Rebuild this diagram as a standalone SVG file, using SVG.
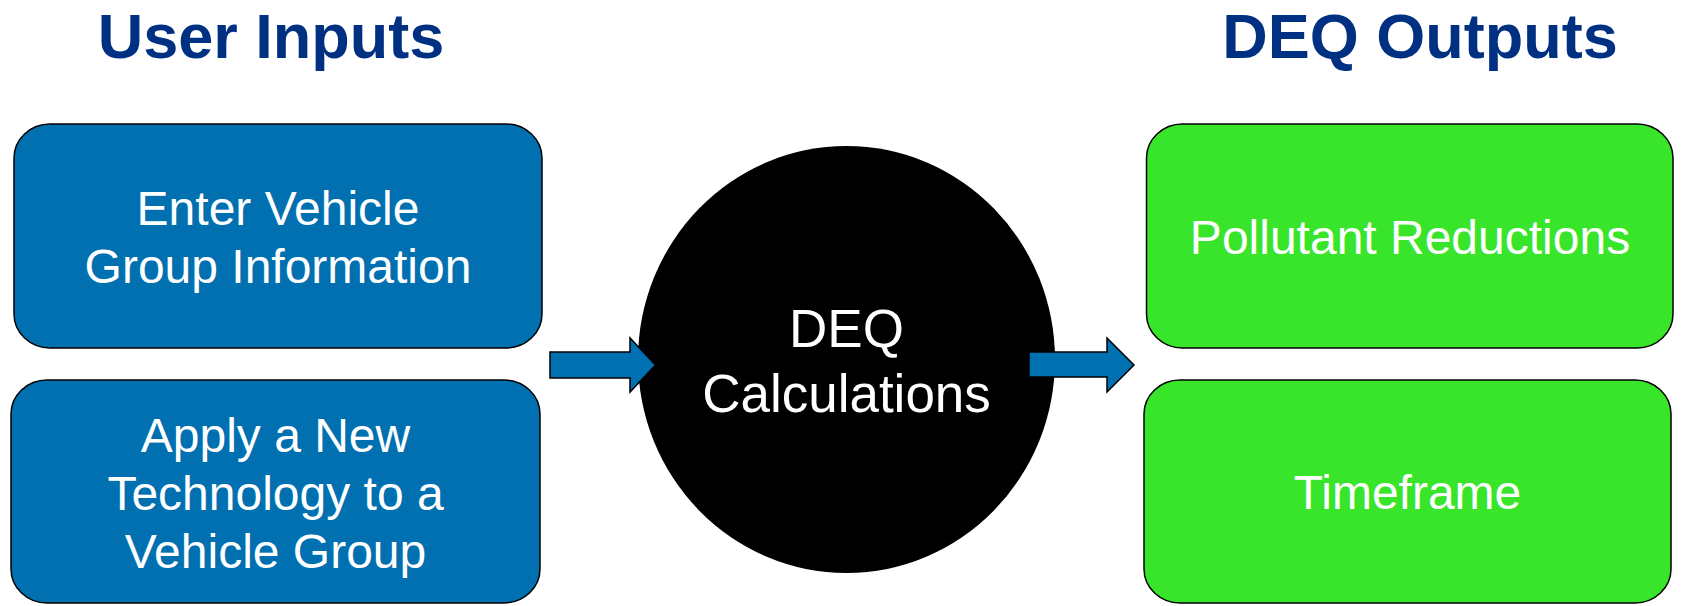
<svg xmlns="http://www.w3.org/2000/svg" width="1683" height="606" viewBox="0 0 1683 606">
  <style>
    .title { font-family: "Liberation Sans", Arial, sans-serif; font-weight: bold; font-size: 63px; fill: #003082; text-anchor: middle; }
    .lbl { font-family: "Liberation Sans", Arial, sans-serif; font-size: 48px; fill: #ffffff; text-anchor: middle; }
    .clbl { font-family: "Liberation Sans", Arial, sans-serif; font-size: 53px; fill: #ffffff; text-anchor: middle; }
    .in { fill: #0070B1; stroke: #000; stroke-width: 1.5; }
    .out { fill: #38E52B; stroke: #000; stroke-width: 1.5; }
    .arrow { fill: #0070B1; stroke: #000; stroke-width: 1.5; stroke-linejoin: miter; }
  </style>
  <rect width="1683" height="606" fill="#ffffff"/>
  <g id="titles">
    <text class="title" x="271" y="57.5">User Inputs</text>
    <text class="title" x="1420" y="57.5">DEQ Outputs</text>
  </g>
  <g id="node-enter">
    <rect class="in" x="14" y="124" width="528" height="224" rx="36" ry="34"/>
    <text class="lbl" x="278" y="225">Enter Vehicle</text>
    <text class="lbl" x="278" y="283">Group Information</text>
  </g>
  <g id="node-apply">
    <rect class="in" x="11" y="380" width="529" height="223" rx="36" ry="34"/>
    <text class="lbl" x="275.5" y="452">Apply a New</text>
    <text class="lbl" x="275.5" y="510">Technology to a</text>
    <text class="lbl" x="275.5" y="568">Vehicle Group</text>
  </g>
  <g id="node-deq">
    <ellipse cx="846.5" cy="359.5" rx="208.5" ry="213.5" fill="#000000"/>
    <text class="clbl" x="846.5" y="347">DEQ</text>
    <text class="clbl" x="846.5" y="412">Calculations</text>
  </g>
  <g id="node-pollutant">
    <rect class="out" x="1146.5" y="124" width="526.5" height="224" rx="36" ry="34"/>
    <text class="lbl" x="1410" y="254">Pollutant Reductions</text>
  </g>
  <g id="node-timeframe">
    <rect class="out" x="1144" y="380" width="527" height="223" rx="36" ry="34"/>
    <text class="lbl" x="1407.5" y="509">Timeframe</text>
  </g>
  <g id="connectors">
    <polygon class="arrow" points="550,352 630,352 630,338 655.5,365 630,392 630,378 550,378"/>
    <polygon class="arrow" points="1029,352 1107,352 1107,338 1134,365 1107,392 1107,377 1029,377"/>
  </g>
</svg>
